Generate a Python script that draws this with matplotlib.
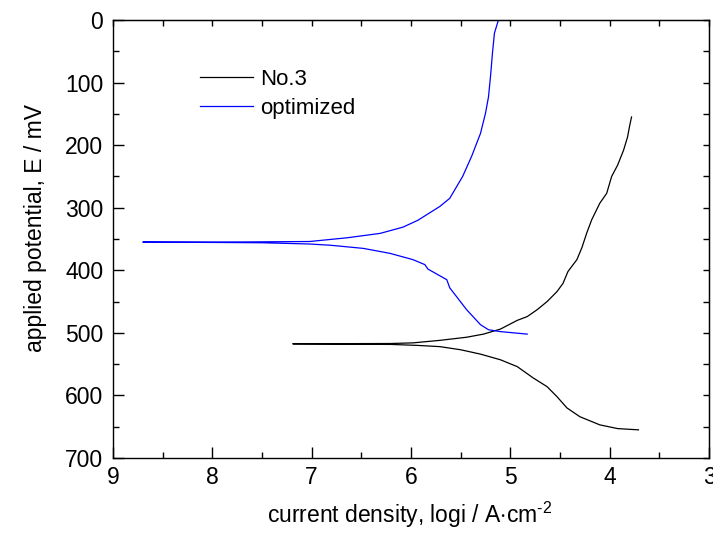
import matplotlib
matplotlib.use("Agg")
import matplotlib.pyplot as plt
from matplotlib.ticker import MultipleLocator

plt.rcParams['font.family'] = ['Liberation Sans', 'DejaVu Sans']
plt.rcParams['mathtext.fontset'] = 'custom'
plt.rcParams['mathtext.rm'] = 'Liberation Sans'
plt.rcParams['mathtext.it'] = 'Liberation Sans'

# optimized (blue): cathodic tail -> corrosion potential -> anodic branch
opt_logi = [4.83, 5.10, 5.22, 5.30, 5.44, 5.61, 5.64, 5.83, 5.86, 5.98, 6.21, 6.48, 6.81, 7.02, 7.5, 8.0, 8.70,
            8.0, 7.5, 7.02, 6.64, 6.31, 6.08, 5.93, 5.71, 5.61, 5.48, 5.39, 5.30, 5.25, 5.22, 5.20, 5.18, 5.16, 5.12]
opt_E = [502, 498, 495, 487, 463, 428, 415, 398, 391, 383, 373, 365, 360, 358, 356, 355.5, 355,
         355, 354.5, 354, 348, 341, 331, 320, 298, 285, 250, 218, 181, 149, 123, 91, 53, 21, 0]

# No.3 (black)
no3_logi = [3.71, 3.92, 4.10, 4.30, 4.43, 4.53, 4.63, 4.77, 4.93, 5.10, 5.30, 5.5, 5.71, 5.94, 6.2, 7.19,
            6.2, 5.98, 5.71, 5.44, 5.27, 5.10, 4.93, 4.83, 4.73, 4.63, 4.53, 4.47, 4.42, 4.33, 4.28, 4.23,
            4.18, 4.10, 4.03, 3.98, 3.92, 3.86, 3.82, 3.80, 3.78]
no3_E = [655, 653, 647, 634, 620, 602, 586, 572, 554, 543, 534, 527, 522, 520, 518.5, 517.5,
         517, 516, 512, 507, 502, 494, 480, 474, 463, 450, 434, 421, 402, 383, 364, 340,
         319, 293, 277, 250, 232, 208, 187, 170, 155]

labels = ["No.3", "optimized"]

fig = plt.figure(figsize=(7.13, 5.33), dpi=100)
ax = fig.add_axes([113/713, 1-458/533, (709-113)/713, (458-20)/533])

ax.plot(no3_logi, no3_E, color='black', lw=0.9, label=labels[0])
ax.plot(opt_logi, opt_E, color='#0000ff', lw=0.9, label=labels[1])

ax.set_xlim(9, 3)
ax.set_ylim(700, 0)
ax.xaxis.set_major_locator(MultipleLocator(1))
ax.xaxis.set_minor_locator(MultipleLocator(0.5))
ax.yaxis.set_major_locator(MultipleLocator(100))
ax.yaxis.set_minor_locator(MultipleLocator(50))
ax.tick_params(which='major', direction='in', length=8, width=1, labelsize=16.5)
ax.tick_params(which='minor', direction='in', length=4, width=1)
ax.tick_params(axis='x', pad=6)
ax.tick_params(axis='y', pad=7)
for s in ax.spines.values():
    s.set_linewidth(1)

top = ax.secondary_xaxis('top')
top.xaxis.set_major_locator(MultipleLocator(0.5))
top.tick_params(direction='in', length=4, width=1, labeltop=False)
right = ax.secondary_yaxis('right')
right.yaxis.set_major_locator(MultipleLocator(50))
right.tick_params(direction='in', length=4, width=1, labelright=False)

ax.set_xlabel('current density, logi / A$\\cdot$cm$^{\\text{-2}}$', fontsize=16.5)
ax.set_ylabel('applied potential, E / mV', fontsize=16.5)
ax.xaxis.set_label_coords(0.497, (458-500)/438)
ax.yaxis.set_label_coords((47-113)/596, (458-228)/438)

ax.legend(loc='upper left', bbox_to_anchor=((200-113)/596, 1-(69-20)/438), frameon=False,
          fontsize=16, handlelength=2.4, handletextpad=0.3, borderpad=0, borderaxespad=0,
          labelspacing=0.35)

fig.savefig('out.png', dpi=100)
